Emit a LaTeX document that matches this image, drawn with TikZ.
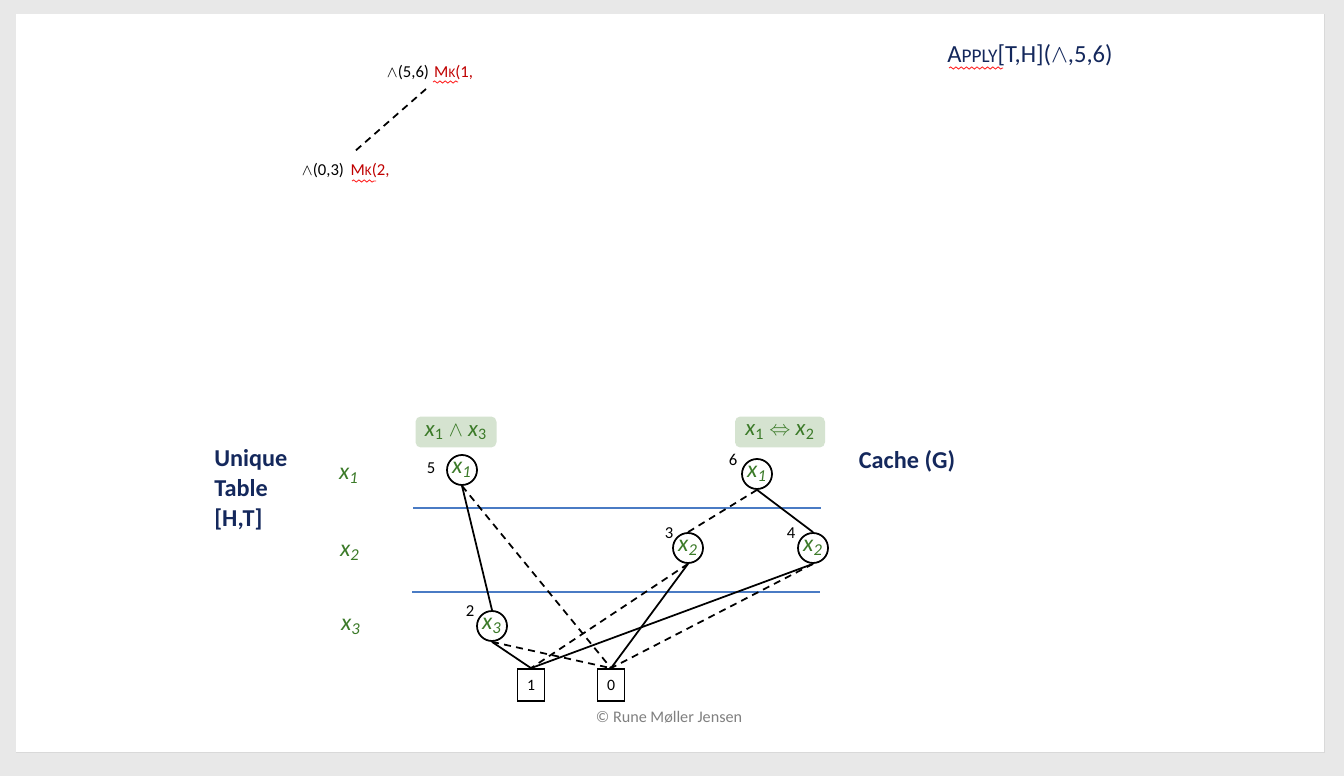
\documentclass[tikz,border=0pt]{standalone}
\usepackage{fontspec}
\setmainfont{Carlito}
\usepackage{xcolor}
\usepackage{tikz}
\usetikzlibrary{positioning, decorations.pathmorphing}

\definecolor{navy}{HTML}{14285C}
\definecolor{leaf}{HTML}{3B7A28}
\definecolor{boxgreen}{HTML}{D5E3D0}
\definecolor{mkred}{HTML}{C00000}
\definecolor{rule}{HTML}{4A7BC4}
\definecolor{slidebg}{HTML}{E8E8E8}

\newcommand{\lv}[1]{\textit{x\textsubscript{#1}}}
\newcommand{\bx}[1]{\textit{x}\textsubscript{#1}}

\begin{document}
\begin{tikzpicture}[
    x=0.02cm, y=-0.02cm,
    bdd/.style={circle, draw, line width=1pt, minimum size=0.6cm, inner sep=0pt, text=leaf, font=\fontsize{13.5}{13.5}\selectfont},
    term/.style={rectangle, draw, line width=1pt, minimum width=0.54cm, minimum height=0.64cm, inner sep=0pt, font=\fontsize{9}{9}\selectfont},
    num/.style={inner sep=0pt, font=\fontsize{9.5}{9.5}\selectfont},
    lvl/.style={inner sep=0pt, text=leaf, font=\fontsize{13.5}{13.5}\selectfont},
    title/.style={inner sep=0pt, text=navy, font=\bfseries\fontsize{13.8}{17}\selectfont},
    func/.style={fill=boxgreen, rounded corners=3pt, text=leaf, minimum height=0.62cm, inner sep=0pt, font=\fontsize{13}{13}\selectfont},
    mk/.style={inner sep=0pt, text=mkred, font=\fontsize{9.5}{9.5}\selectfont},
    hi/.style={draw, line width=1pt},
    lo/.style={draw, line width=1pt, dash pattern=on 4pt off 3pt},
    spell/.style={draw=red!85!white, line width=0.5pt, decorate, decoration={snake, amplitude=0.6pt, segment length=3pt}}
]
% slide
\fill[slidebg] (0,0) rectangle (1344,776);
\fill[gray!30] (16,14) rectangle (1325,753);
\fill[white] (16,14) rectangle (1324,752);
\useasboundingbox (0,0) rectangle (1344,776);

% recursion trace
\node[num] (op56) at (408,73) {$\wedge$(5,6)};
\node[mk, right=0.09cm of op56] (mk1) {M{\fontsize{7.5}{7.5}\selectfont K}(1,};
\node[num] (op03) at (323,171) {$\wedge$(0,3)};
\node[mk, right=0.12cm of op03] (mk2) {M{\fontsize{7.5}{7.5}\selectfont K}(2,};
\coordinate (c56) at (426,89);
\coordinate (c03) at (354,152);
\draw[lo] (c56) -- (c03);
\draw[spell] (433,82) -- (458,82);
\draw[spell] (352,181) -- (376,181);

\node[inner sep=0pt, text=navy, font=\fontsize{14}{14}\selectfont] (apply) at (1030,55)
  {A{\fontsize{11}{11}\selectfont PPLY}[T,H]($\wedge$,5,6)};
\draw[spell] (949,68) -- (1003,68);

% tables
\node[title, align=left, anchor=west] (uniq) at (214,490) {Unique\\Table\\{[}H,T{]}};
\node[title] (cache) at (907,461) {Cache (G)};

\node[lvl] (l1) at (349,476) {\lv{1}};
\node[lvl] (l2) at (350,553) {\lv{2}};
\node[lvl] (l3) at (351,627) {\lv{3}};

\draw[rule, line width=0.6pt] (413,508) -- (821,508);
\draw[rule, line width=0.6pt] (412,592) -- (820,592);

% functions
\node[func, minimum width=1.62cm] (f1) at (456,432) {\bx{1} $\wedge$ \bx{3}};
\node[func, minimum width=1.8cm] (f2) at (780,432) {\bx{1} $\Leftrightarrow$ \bx{2}};

% BDD nodes
\node[bdd] (n5) at (462,470) {\lv{1}};
\node[bdd] (n6) at (757,474) {\lv{1}};
\node[bdd] (n3) at (688,548) {\lv{2}};
\node[bdd] (n4) at (813,548) {\lv{2}};
\node[bdd] (n2) at (492,626) {\lv{3}};
\node[term] (t1) at (531,685) {1};
\node[term] (t0) at (611,685) {0};

\node[num] at (431,468) {5};
\node[num] at (733,460) {6};
\node[num] at (669,533) {3};
\node[num] at (791,533) {4};
\node[num] at (470,611) {2};

\draw[hi] (n5.south) -- (n2.north);
\draw[lo] (n5.south) -- (t0.north);
\draw[lo] (n6.south) -- (n3.north);
\draw[hi] (n6.south) -- (n4.north);
\draw[lo] (n3.south) -- (t1.north);
\draw[hi] (n3.south) -- (t0.north);
\draw[hi] (n4.south) -- (t1.north);
\draw[lo] (n4.south) -- (t0.north);
\draw[hi] (n2.south) -- (t1.north);
\draw[lo] (n2.south) -- (t0.north);

\node[inner sep=0pt, text=gray, font=\fontsize{9.2}{9.2}\selectfont] (copy) at (669,717) {© Rune Møller Jensen};
\end{tikzpicture}
\end{document}
